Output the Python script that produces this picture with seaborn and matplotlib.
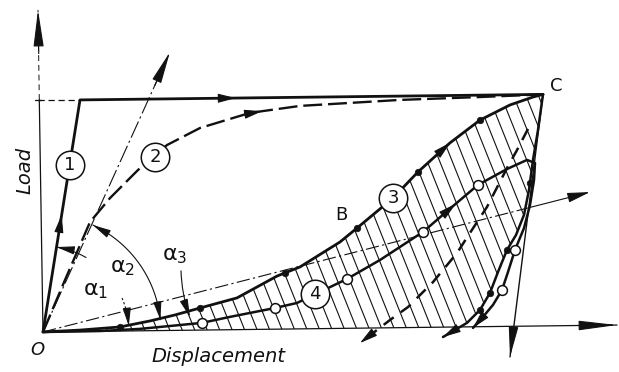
import numpy as np
import matplotlib
matplotlib.use("Agg")
import matplotlib.pyplot as plt
from matplotlib.patches import Polygon
import seaborn as sns

# ------------------------------------------------------------------ data
# (Displacement, Load) in arbitrary units; O = (0, 0), C = peak point
peak_C = (10.0, 9.9)
yield_load = 9.67

curve1_x = [0.00, 0.74, 10.00]
curve1_y = [0.00, 9.67, 9.90]

curve2_x = [0.00, 0.44, 0.94, 1.34, 1.90, 2.48, 3.14, 4.14, 5.14, 7.14, 8.74, 10.00]
curve2_y = [0.00, 2.17, 4.58, 5.58, 6.75, 7.79, 8.50, 9.13, 9.42, 9.67, 9.79, 9.90]

curve3_x = [0.00, 0.74, 1.54, 2.14, 2.64, 3.14, 3.88, 4.68, 5.14, 5.94, 6.28, 7.00,
            7.50, 8.14, 8.74, 9.34, 9.80, 10.00]
curve3_y = [0.00, 0.08, 0.21, 0.46, 0.71, 1.00, 1.42, 2.33, 2.71, 3.75, 4.33, 5.58,
            6.67, 7.88, 8.83, 9.46, 9.79, 9.90]

unload3_x = [10.00, 9.90, 9.80, 9.72, 9.62, 9.46, 9.28, 9.10, 8.94, 8.74, 8.48, 8.00]
unload3_y = [9.90, 8.42, 7.17, 5.92, 4.88, 4.04, 3.42, 2.50, 1.63, 0.92, 0.38, -0.21]

dots3_x = [1.54, 3.14, 4.84, 6.28, 7.50, 8.74, 9.74, 9.28, 8.94, 8.74]
dots3_y = [0.21, 1.00, 2.46, 4.33, 6.67, 8.83, 6.20, 3.42, 1.63, 0.92]

curve4_x = [0.00, 1.14, 1.94, 2.54, 3.18, 3.74, 4.64, 5.08, 6.08, 6.74, 7.60, 8.18, 8.70,
            9.28, 9.68, 9.84, 9.82, 9.74, 9.62, 9.44, 9.30, 9.18, 9.00, 8.80, 8.60]
curve4_y = [0.00, 0.04, 0.13, 0.25, 0.38, 0.63, 1.00, 1.21, 2.21, 3.00, 4.17, 5.21, 6.13,
            6.79, 7.17, 7.04, 6.33, 5.29, 4.33, 3.42, 2.50, 1.75, 1.13, 0.63, 0.17]
circles4_x = [3.18, 4.64, 6.08, 7.60, 8.70, 9.44, 9.18]
circles4_y = [0.38, 1.00, 2.21, 4.17, 6.13, 3.42, 1.75]

dashed_x = [9.70, 9.48, 9.28, 8.88, 8.54, 8.28, 7.80, 7.30, 6.94, 6.34]
dashed_y = [8.46, 7.58, 6.83, 5.21, 4.13, 3.29, 2.08, 1.04, 0.50, -0.46]

secant_x = [0.00, 10.94]
secant_y = [0.00, 5.83]
tangent_x = [0.00, 2.54]
tangent_y = [0.00, 11.67]
drop_x = [10.00, 9.34]
drop_y = [9.90, -1.04]
xaxis_x = [0.00, 11.48]
xaxis_y = [0.00, 0.29]
yaxis_x = [0.00, -0.10]
yaxis_y = [0.00, 13.42]

circle_labels = ["1", "2", "3", "4"]
circle_lab_x = [0.54, 2.24, 7.00, 5.44]
circle_lab_y = [6.96, 7.29, 5.58, 1.58]

# ------------------------------------------------------------------ figure
sns.set_style("white")
plt.rcParams["font.family"] = ["DejaVu Sans"]

fig = plt.figure(figsize=(6.19, 3.72), dpi=100)
ax = fig.add_axes([0, 0, 1, 1])
ax.set_xlim(-0.86, 11.52)
ax.set_ylim(-1.667, 13.833)
ax.axis("off")
K = "#111111"


def sline(x, y, lw, dashes=None, z=3):
    sns.lineplot(x=x, y=y, sort=False, estimator=None, color=K, lw=lw,
                 ax=ax, legend=False, zorder=z)
    ln = ax.lines[-1]
    if dashes:
        ln.set_dashes(dashes)
    return ln


def head(tip, tail, ms=10, hl=1.1, hw=0.28, lw=0.8):
    ax.annotate("", xy=tip, xytext=tail, xycoords="data",
                arrowprops=dict(arrowstyle=f"-|>,head_length={hl},head_width={hw}",
                                color=K, lw=lw, shrinkA=0, shrinkB=0,
                                mutation_scale=ms), zorder=6)


def arrow_at(xs, ys, frac, back=16, **kw):
    P = ax.transData.transform(np.column_stack([xs, ys]))
    seg = np.hypot(*np.diff(P, axis=0).T)
    s = np.concatenate([[0], np.cumsum(seg)])
    st = frac * s[-1]
    sb = max(st - back, 0)
    inv = ax.transData.inverted()
    tip = inv.transform([np.interp(st, s, P[:, 0]), np.interp(st, s, P[:, 1])])
    tail = inv.transform([np.interp(sb, s, P[:, 0]), np.interp(sb, s, P[:, 1])])
    head(tuple(tip), tuple(tail), **kw)


def arc(r_px, a0, a1, n=50):
    o = ax.transData.transform((0, 0))
    th = np.radians(np.linspace(a0, a1, n))
    pts = np.column_stack([o[0] + r_px * np.cos(th), o[1] + r_px * np.sin(th)])
    d = ax.transData.inverted().transform(pts)
    return d[:, 0], d[:, 1]


# axes
sline([yaxis_x[0], -0.074], [0, yield_load], 0.9)
sline([-0.074, yaxis_x[1]], [yield_load, yaxis_y[1]], 0.7, dashes=(6, 4))
head((yaxis_x[1], yaxis_y[1]), (-0.085, 11.6), ms=10, hl=2.3, hw=0.32)
sline(xaxis_x, xaxis_y, 0.9)
head((xaxis_x[1], xaxis_y[1]), (10.7, 0.27), ms=10, hl=2.4, hw=0.3)
sline([yaxis_x[1], curve1_x[1]], [yield_load, yield_load], 0.9, dashes=(5, 3))
sline([-0.16, -0.04], [yield_load, yield_load], 0.9)

# hatched zone between curve 3 and the displacement axis
poly_pts = list(zip(curve3_x, curve3_y)) + list(zip(unload3_x[1:-1], unload3_y[1:-1])) \
    + [(8.35, 0.21), (0.0, 0.0)]
zone = Polygon(poly_pts, closed=True, fill=False, edgecolor="none")
ax.add_patch(zone)
for x0 in np.arange(0.05, 13.6, 0.25):
    hl_, = ax.plot([x0 + 0.192, x0 - 0.192 * 11], [-1, 11], color=K, lw=0.8, zorder=2)
    hl_.set_clip_path(zone)

# guide lines
sline(secant_x[:1] + [secant_x[1] * 0.88], secant_y[:1] + [secant_y[1] * 0.88], 0.8,
      dashes=(12, 3, 2, 3))
head((secant_x[1], secant_y[1]), (secant_x[1] * 0.88, secant_y[1] * 0.88), hl=1.4, hw=0.3)
sline([0, tangent_x[1] * 0.9], [0, tangent_y[1] * 0.9], 0.8, dashes=(16, 3, 2, 3))
head((tangent_x[1], tangent_y[1]), (tangent_x[1] * 0.88, tangent_y[1] * 0.88), hl=2.0, hw=0.3)
sline(drop_x, drop_y, 1.0)
head((drop_x[1], drop_y[1]), (9.41, 0.2), hl=1.9, hw=0.3)

# load-displacement curves
sline(curve1_x, curve1_y, 2.0)
sline(curve2_x, curve2_y, 1.7, dashes=(8, 2.5))
sline(curve3_x, curve3_y, 2.0)
sline(unload3_x, unload3_y, 1.8)
sline(curve4_x, curve4_y, 1.8)
sline(dashed_x, dashed_y, 1.8, dashes=(5, 3.5))

arrow_at(curve1_x, curve1_y, 0.17)
arrow_at(curve1_x, curve1_y, 0.56)
arrow_at(curve2_x, curve2_y, 0.54)
arrow_at(curve3_x, curve3_y, 0.815)
arrow_at(curve4_x, curve4_y, 0.62)
arrow_at(unload3_x, unload3_y, 1.0)
arrow_at(curve4_x, curve4_y, 1.0)
arrow_at(dashed_x, dashed_y, 1.0)

# measured points
sns.scatterplot(x=dots3_x, y=dots3_y, s=22, color=K, edgecolor=K, linewidth=0.5,
                ax=ax, zorder=7, legend=False)
sns.scatterplot(x=circles4_x, y=circles4_y, s=50, color="white", edgecolor=K,
                linewidth=1.1, ax=ax, zorder=7, legend=False)

# angle arcs
ax_, ay_ = arc(86, 60, 81)
ax.plot(ax_, ay_, color=K, lw=0.8, zorder=3)
head((ax_[-1], ay_[-1]), (ax_[-8], ay_[-8]), hl=1.1, hw=0.25)
ax_, ay_ = arc(86, 4, 24)
ax.plot(ax_, ay_, color=K, lw=0.8, ls=(0, (2, 2)), zorder=3)
head((ax_[0], ay_[0]), (ax_[12], ay_[12]), hl=1.1, hw=0.25)
ax_, ay_ = arc(118, 6, 65)
ax.plot(ax_, ay_, color=K, lw=0.8, zorder=3)
head((ax_[-1], ay_[-1]), (ax_[-8], ay_[-8]), hl=1.1, hw=0.25)
head((ax_[0], ay_[0]), (ax_[6], ay_[6]), hl=1.1, hw=0.25)
ax.annotate("", xy=(2.94, 0.62), xytext=(2.76, 2.55),
            arrowprops=dict(arrowstyle="-|>,head_length=1.1,head_width=0.25", color=K,
                            lw=0.8, shrinkA=0, shrinkB=0, mutation_scale=10,
                            connectionstyle="arc3,rad=0.08"), zorder=6)

# circled curve numbers
sns.scatterplot(x=circle_lab_x, y=circle_lab_y, s=420, color="white", edgecolor=K,
                linewidth=1.1, ax=ax, zorder=8, legend=False)
for t, x, y in zip(circle_labels, circle_lab_x, circle_lab_y):
    ax.text(x, y, t, ha="center", va="center", fontsize=13, color=K, zorder=9)

# text labels
ax.text(10.26, 10.25, "C", fontsize=13, ha="center", va="center", color=K)
ax.text(5.96, 4.88, "B", fontsize=13, ha="center", va="center", color=K)
ax.text(-0.12, -0.75, "O", fontsize=13, style="italic", ha="center", va="center", color=K)
ax.text(-0.36, 6.75, "Load", fontsize=14, style="italic", rotation=90,
        ha="center", va="center", color=K)
ax.text(3.5, -1.04, "Displacement", fontsize=14, style="italic",
        ha="center", va="center", color=K)
ax.text(1.06, 1.71, r"$\mathrm{\alpha}_{\mathit{1}}$", fontsize=16, ha="center", va="center", color=K)
ax.text(1.60, 2.67, r"$\mathrm{\alpha}_{\mathit{2}}$", fontsize=16, ha="center", va="center", color=K)
ax.text(2.64, 3.17, r"$\mathrm{\alpha}_{\mathit{3}}$", fontsize=16, ha="center", va="center", color=K)

fig.savefig("out.png", dpi=100, facecolor="white")
